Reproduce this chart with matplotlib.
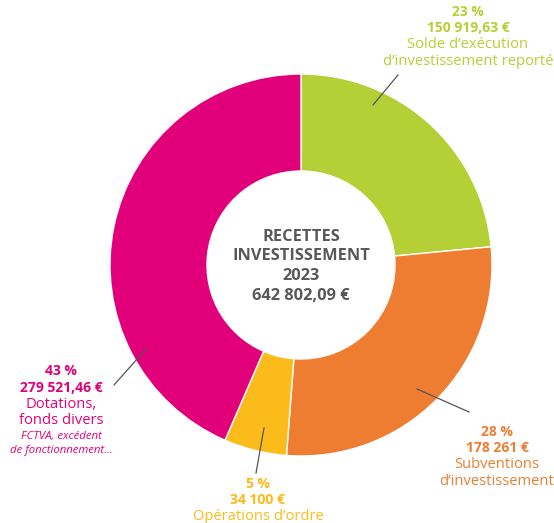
import matplotlib.pyplot as plt

# Données
categories = ["Solde d'exécution d'investissement reporté", "Subventions d'investissement",
              "Opérations d'ordre", "Dotations, fonds divers"]
montants = [150919.63, 178261, 34100, 279521.46]
pourcentages = ["23 %", "28 %", "5 %", "43 %"]
montants_txt = ["150 919,63 €", "178 261 €", "34 100 €", "279 521,46 €"]
couleurs = ["#b5cf36", "#ee7d32", "#fbbb1a", "#e2007a"]
total_txt = "642 802,09 €"

plt.rcParams['font.family'] = ['Open Sans', 'DejaVu Sans']

fig = plt.figure(figsize=(5.54, 5.23), dpi=100)
ax = fig.add_axes([0, 0, 1, 1])
ax.set_xlim(0, 554)
ax.set_ylim(0, 523)
ax.set_aspect('equal')
ax.axis('off')

H = 523
ax.pie(montants, colors=couleurs, startangle=90, counterclock=False,
       center=(301, H - 265), radius=191,
       wedgeprops=dict(width=97, edgecolor='white', linewidth=1))
ax.set_xlim(0, 554)
ax.set_ylim(0, 523)

# Texte central
gris = "#58585a"
for i, t in enumerate(["RECETTES", "INVESTISSEMENT", "2023", total_txt]):
    ax.text(301, H - (237 + i * 19.5), t, ha='center', va='center',
            fontsize=11.8, fontweight='bold', color=gris)

# Étiquettes
def etiquette(x, y0, lignes, couleur, pas=16.5):
    y = y0
    for texte, style in lignes:
        kw = dict(ha='center', va='center', color=couleur)
        if style == 'b':
            kw.update(fontsize=10, fontweight='bold')
        elif style == 'i':
            kw.update(fontsize=8.2, style='italic')
        else:
            kw.update(fontsize=10.6)
        ax.text(x, H - y, texte, **kw)
        y += pas if style != 'i' else 13.5

etiquette(468, 12, [(pourcentages[0], 'b'), (montants_txt[0], 'b'),
                    ("Solde d’exécution", 'n'), ("d’investissement reporté", 'n')], couleurs[0])
etiquette(497, 432, [(pourcentages[1], 'b'), (montants_txt[1], 'b'),
                     ("Subventions", 'n'), ("d’investissement", 'n')], couleurs[1])
etiquette(258, 484, [(pourcentages[2], 'b'), (montants_txt[2], 'b'),
                     ("Opérations d’ordre", 'n')], couleurs[2])
etiquette(61, 371, [(pourcentages[3], 'b'), (montants_txt[3], 'b'),
                    ("Dotations,", 'n'), ("fonds divers", 'n'),
                    ("FCTVA, excédent", 'i'), ("de fonctionnement…", 'i')], couleurs[3])

# Traits de rappel
traits = [((373, 105), (398, 75)), ((417, 389), (469, 412)),
          ((264, 428), (256, 473)), ((146, 349), (114, 385))]
for (x1, y1), (x2, y2) in traits:
    ax.plot([x1, x2], [H - y1, H - y2], color="#555555", linewidth=0.9)

plt.savefig("out.png", dpi=100)
